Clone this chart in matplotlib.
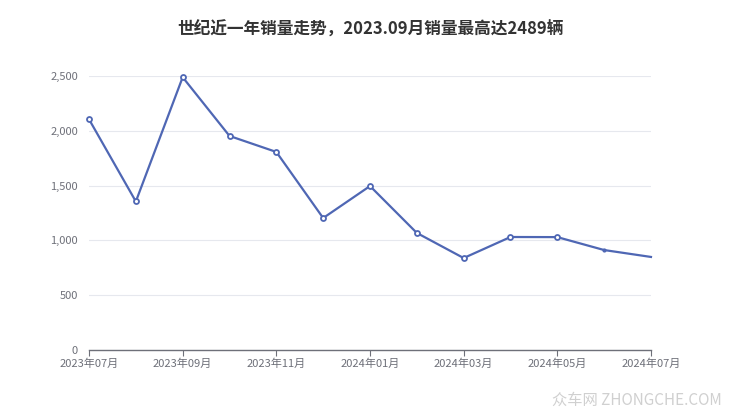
import matplotlib.pyplot as plt

plt.rcParams['font.family'] = ['Noto Sans CJK SC', 'DejaVu Sans']

months = ['2023年07月', '2023年08月', '2023年09月', '2023年10月', '2023年11月',
          '2023年12月', '2024年01月', '2024年02月', '2024年03月', '2024年04月',
          '2024年05月', '2024年06月', '2024年07月']
sales = [2105, 1355, 2489, 1953, 1807, 1204, 1496, 1068, 839, 1031, 1030, 912, 849]
yticks = [0, 500, 1000, 1500, 2000, 2500]

fig = plt.figure(figsize=(7.4, 4.17), dpi=100)
ax = fig.add_axes([0.1203, 0.1607, 0.7594, 0.657])

x = list(range(len(months)))
color = '#4f67b4'
ax.plot(x, sales, color=color, lw=1.6, zorder=3, clip_on=False)
# open markers on all points except the last two (echarts hid them)
ax.plot(x[:11], sales[:11], 'o', ms=3.6, mfc='white', mec=color, mew=1.3, zorder=4, clip_on=False)
ax.plot(x[11], sales[11], 'o', ms=2, color=color, zorder=4)

ax.set_xlim(0, len(months) - 1)
ax.set_ylim(0, 2500)
ax.set_yticks(yticks)
ax.set_yticklabels([f'{v:,}' for v in yticks])
ax.set_xticks(x[::2])
ax.set_xticklabels(months[::2])

ax.grid(axis='y', color='#e6e8ee', lw=0.8)
ax.set_axisbelow(True)
for s in ['top', 'right', 'left']:
    ax.spines[s].set_visible(False)
ax.spines['bottom'].set_color('#6e7079')
ax.spines['bottom'].set_linewidth(1)
ax.tick_params(axis='y', length=0, labelsize=8, labelcolor='#6e7079', pad=8)
ax.tick_params(axis='x', length=4, color='#6e7079', labelsize=8, labelcolor='#6e7079', pad=2)

fig.text(0.5, 0.928, '世纪近一年销量走势，2023.09月销量最高达2489辆', ha='center', va='center',
         fontsize=12, fontweight='bold', color='#333333')
fig.text(0.975, 0.04, '众车网 ZHONGCHE.COM', ha='right', va='center',
         fontsize=11, color='#d0d0d0')

fig.savefig('out.png', dpi=100)
